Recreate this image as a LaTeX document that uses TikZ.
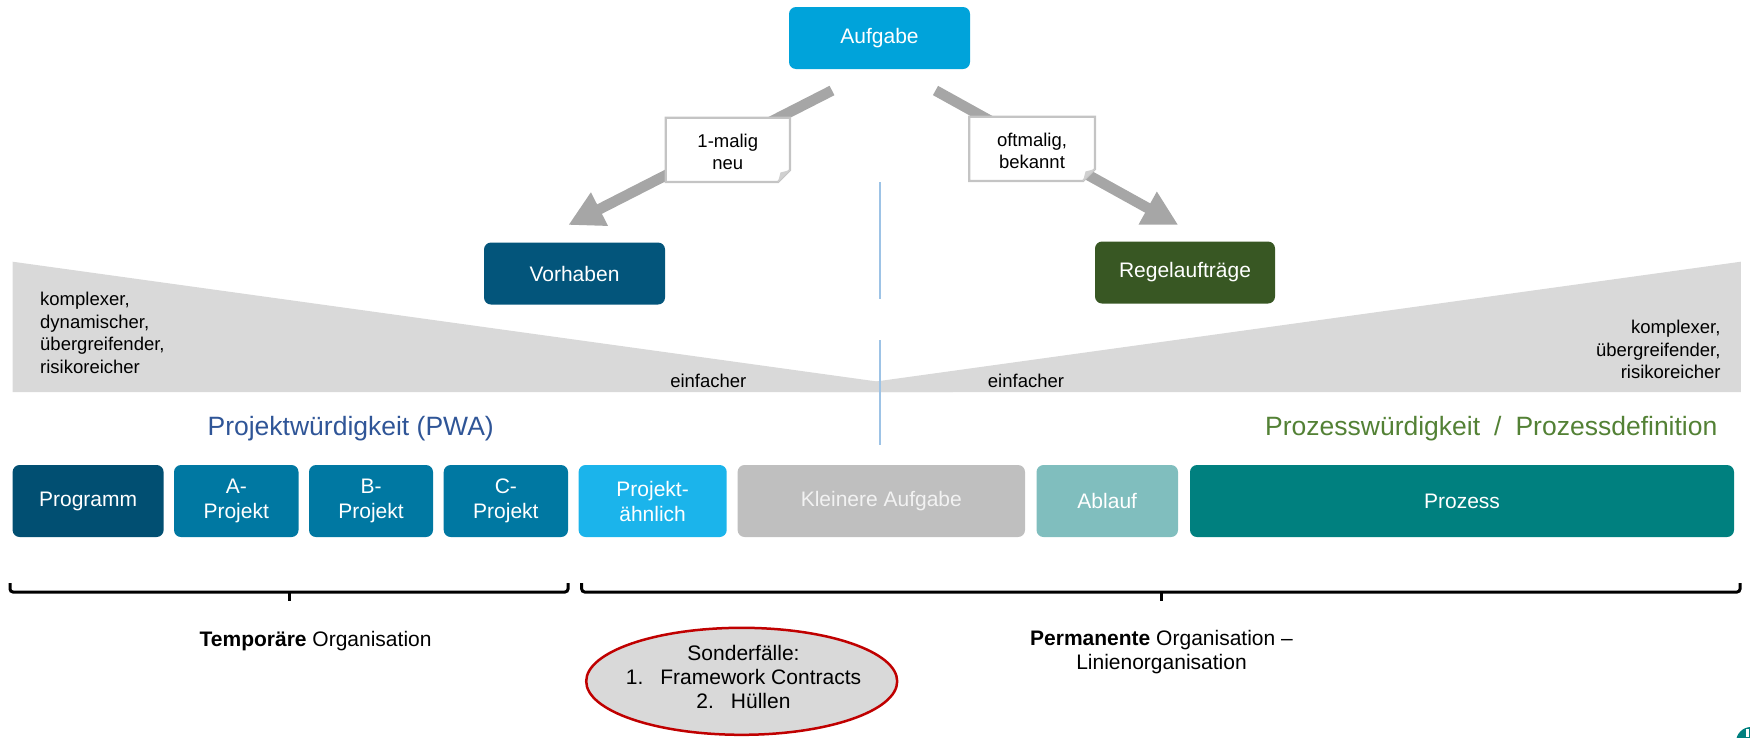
\documentclass[tikz,border=0pt]{standalone}
\usepackage{fontspec}
\setmainfont{Liberation Sans}
\usetikzlibrary{arrows.meta,shapes.geometric}
\definecolor{aufgabeC}{HTML}{00A3DA}
\definecolor{vorhabenC}{HTML}{03557B}
\definecolor{regelC}{HTML}{385723}
\definecolor{programmC}{HTML}{014F72}
\definecolor{projC}{HTML}{0078A2}
\definecolor{pahnC}{HTML}{1BB4EB}
\definecolor{kleinC}{HTML}{BFBFBF}
\definecolor{ablaufC}{HTML}{80BEBE}
\definecolor{prozessC}{HTML}{00807F}
\definecolor{arrowC}{HTML}{A6A6A6}
\definecolor{triC}{HTML}{D9D9D9}
\definecolor{vlineC}{HTML}{9DC3E6}
\definecolor{pwaC}{HTML}{2F5597}
\definecolor{pzC}{HTML}{538135}
\definecolor{ellRed}{HTML}{C00000}
\definecolor{lblBorder}{HTML}{C4C4C4}
\definecolor{foldC}{HTML}{D0D0D0}
\begin{document}
\begin{tikzpicture}[x=1pt,y=-1pt,
  box/.style={rectangle, rounded corners=7pt, inner sep=0pt, text=white, align=center,
    font=\fontsize{21}{25}\selectfont},
  topbox/.style={box, minimum height=62pt, minimum width=181pt},
  rowbox/.style={box, minimum height=72pt},
  small/.style={inner sep=0pt, font=\fontsize{18.5}{22.5}\selectfont},
  mid/.style={inner sep=0pt, font=\fontsize{21}{23.5}\selectfont, align=center},
  header/.style={inner sep=0pt, font=\fontsize{26.5}{30}\selectfont},
  bigarrow/.style={draw=arrowC, line width=10.6pt, line cap=butt, -{Triangle[length=35pt,width=35pt]}},
  lblshape/.style={fill=white, draw=lblBorder, line width=2.3pt, line join=miter},
  brk/.style={draw=black, line width=3pt, rounded corners=3pt},
  vline/.style={draw=vlineC, line width=2pt}
]
\useasboundingbox (0,0) rectangle (1750,737);

% gray wedges
\fill[triC] (12.6,261.7) -- (953,392) -- (12.6,392) -- cycle;
\fill[triC] (1740.8,261.7) -- (800,392) -- (1740.8,392) -- cycle;

% vertical separator
\draw[vline] (880,182) -- (880,299);
\draw[vline] (880,340) -- (880,445);

% top boxes
\node[topbox, fill=aufgabeC] (aufgabe) at (879.5,38) {Aufgabe};
\node[topbox, fill=vorhabenC] (vorhaben) at (574.5,273.5) {Vorhaben};
\node[topbox, fill=regelC, minimum width=180pt] (regel) at (1185,272.5) {Regelaufträge};

% arrows
\coordinate (l1) at (832,90.5);
\coordinate (l2) at (568.3,225);
\coordinate (r1) at (935.5,90.5);
\coordinate (r2) at (1178.3,225);
\draw[bigarrow] (l1) -- (l2);
\draw[bigarrow] (r1) -- (r2);

% label boxes with folded corner
\path[lblshape] (665.7,117.7) -- (790,117.7) -- (790,170) -- (778,182) -- (665.7,182) -- cycle;
\fill[foldC] (790,170) -- (778,182) -- (780.5,172.5) -- cycle;
\node[small, align=center] (once) at (727.8,152) {1-malig\\neu};

\path[lblshape] (969.3,116.7) -- (1095,116.7) -- (1095,169) -- (1083,181) -- (969.3,181) -- cycle;
\fill[foldC] (1095,169) -- (1083,181) -- (1085.5,171.5) -- cycle;
\node[small, align=center] (often) at (1032,151) {oftmalig,\\bekannt};

% wedge texts
\node[small, anchor=west, align=left] (cl) at (40,333) {komplexer,\\dynamischer,\\übergreifender,\\risikoreicher};
\node[small, anchor=east, align=right] (cr) at (1720.7,349.5) {komplexer,\\übergreifender,\\risikoreicher};
\node[small] (el) at (708.3,381) {einfacher};
\node[small] (er) at (1026,381) {einfacher};

% headers
\node[header, text=pwaC] (pwa) at (350.7,428.3) {Projektwürdigkeit (PWA)};
\node[header, text=pzC] (pzd) at (1491.3,428.3) {Prozesswürdigkeit\hspace{14pt}/\hspace{14pt}Prozessdefinition};

% bottom row
\node[rowbox, fill=programmC, minimum width=151pt] (programm) at (88.1,501) {Programm};
\node[rowbox, fill=projC, minimum width=124.5pt] (aproj) at (236.25,501) {A-\\Projekt};
\node[rowbox, fill=projC, minimum width=124pt] (bproj) at (371,501) {B-\\Projekt};
\node[rowbox, fill=projC, minimum width=124.3pt] (cproj) at (505.85,501) {C-\\Projekt};
\node[rowbox, fill=pahnC, minimum width=148.1pt] (pahn) at (652.65,501) {Projekt-\\ähnlich};
\node[rowbox, fill=kleinC, minimum width=287.4pt, text=white!95!black] (klein) at (881.3,501) {Kleinere Aufgabe};
\node[rowbox, fill=ablaufC, minimum width=141.5pt] (ablauf) at (1107.25,501) {Ablauf};
\node[rowbox, fill=prozessC, minimum width=544pt] (prozess) at (1462,501) {Prozess};

% brackets
\draw[brk] (10,583) -- (10,592) -- (568,592) -- (568,583);
\draw[brk] (289,592) -- (289,601);
\draw[brk] (581.7,583) -- (581.7,592) -- (1740,592) -- (1740,583);
\draw[brk] (1161,592) -- (1161,601);

% bottom texts
\node[mid] (temp) at (315.6,640.7) {\textbf{Temporäre} Organisation};
\node[mid] (perm) at (1161.5,652) {\textbf{Permanente} Organisation –\\Linienorganisation};

% special cases ellipse
\node[ellipse, fill=triC, draw=ellRed, line width=2.5pt, minimum width=311pt, minimum height=107pt,
      inner sep=0pt] (sonder) at (741.7,681.3) {};
\node[inner sep=0pt, align=center, font=\fontsize{21}{24}\selectfont] (sondertext) at (743.5,677)
  {Sonderfälle:\\1.\hspace{17pt}Framework Contracts\\2.\hspace{17pt}Hüllen};

% logo fragment at the corner
\begin{scope}
\clip (1700,700) rectangle (1750,737);
\fill[prozessC] (1751,742) circle (15);
\fill[white] (1746,729) rectangle (1749,737);
\end{scope}
\end{tikzpicture}
\end{document}
